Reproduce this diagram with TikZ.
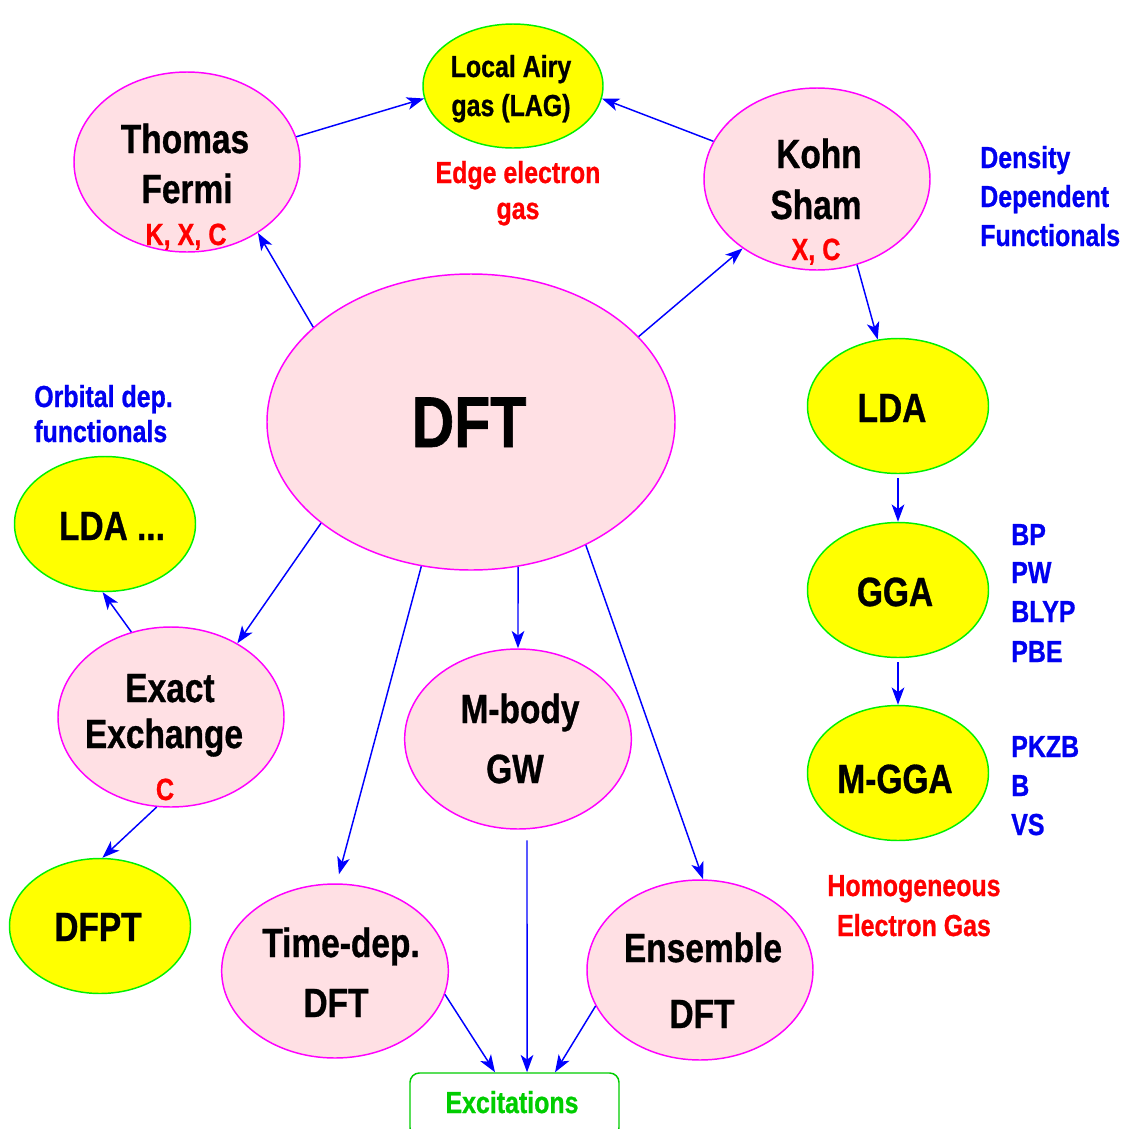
\documentclass[tikz,border=0pt]{standalone}
\usepackage{fontspec}
\setmainfont{Liberation Sans}[FakeStretch=0.82, BoldFeatures={FakeBold=0.8}]
\usetikzlibrary{shapes.geometric,arrows.meta}
\definecolor{pinkfill}{RGB}{255,224,228}
\definecolor{pinkline}{RGB}{255,0,255}
\definecolor{yelfill}{RGB}{255,255,0}
\definecolor{yelline}{RGB}{0,240,0}
\definecolor{arrblue}{RGB}{0,0,255}
\definecolor{txtblue}{RGB}{0,0,240}
\definecolor{txtred}{RGB}{255,0,0}
\definecolor{excgreen}{RGB}{0,205,0}
\begin{document}
\begin{tikzpicture}[x=0.75pt,y=-0.75pt,
  pinkell/.style={ellipse, draw=pinkline, fill=pinkfill, line width=1.1pt, inner sep=0pt},
  yelell/.style={ellipse, draw=yelline, fill=yelfill, line width=1.1pt, inner sep=0pt,
    minimum width=135.75pt, minimum height=101.25pt},
  arr/.style={draw=arrblue, line width=1.1pt, -{Stealth[length=13pt,width=9.5pt,inset=3.5pt]}},
  big/.style={anchor=base, inner sep=0pt, font=\bfseries\fontsize{30.6}{36}\selectfont},
  huge/.style={anchor=base, inner sep=0pt, font=\bfseries\fontsize{54}{60}\selectfont},
  mid/.style={anchor=base, inner sep=0pt, font=\bfseries\fontsize{22.8}{27}\selectfont},
  redsm/.style={anchor=base, inner sep=0pt, text=txtred, font=\bfseries\fontsize{23}{27}\selectfont},
  bluel/.style={mid, anchor=base west, text=txtblue},
  redl/.style={mid, text=txtred}
]
\useasboundingbox (0,0) rectangle (1122,1129);

% ellipses
\node[pinkell, minimum width=306pt, minimum height=222pt] (dft) at (471,422) {};
\node[pinkell, minimum width=169.5pt, minimum height=135pt] (tf) at (187,162) {};
\node[yelell, minimum width=135pt, minimum height=93pt] (lag) at (513,86) {};
\node[pinkell, minimum width=169.5pt, minimum height=136.5pt] (ks) at (817,179) {};
\node[yelell] (lda) at (898,406) {};
\node[yelell] (gga) at (898,590) {};
\node[yelell] (mgga) at (898,773) {};
\node[yelell] (ldal) at (105,524) {};
\node[pinkell, minimum width=169.5pt, minimum height=135pt] (ee) at (171,717) {};
\node[yelell] (dfpt) at (100,926) {};
\node[pinkell, minimum width=170pt, minimum height=135pt] (mb) at (518,739) {};
\node[pinkell, minimum width=170pt, minimum height=130.5pt] (td) at (335,971) {};
\node[pinkell, minimum width=169.5pt, minimum height=135pt] (ens) at (700,970) {};
\node[draw=excgreen, line width=1.1pt, rounded corners=7pt, minimum width=156.75pt,
  minimum height=48pt, inner sep=0pt] (exc) at (514.5,1105) {};

% texts inside nodes
\node[huge] (tdft) at (469,447) {DFT};
\node[big] (ttf1) at (185,153) {Thomas};
\node[big] (ttf2) at (187,203) {Fermi};
\node[redsm] (ttf3) at (186,245) {K, X, C};
\node[mid] (tlag1) at (511,77) {Local Airy};
\node[mid] (tlag2) at (511,116) {gas (LAG)};
\node[big] (tks1) at (819,168) {Kohn};
\node[big] (tks2) at (816,219) {Sham};
\node[redsm] (tks3) at (816,260) {X, C};
\node[big] (tlda) at (892,422) {LDA};
\node[big] (tgga) at (895,606) {GGA};
\node[big] (tmgga) at (895,793) {M-GGA};
\node[big] (tldal) at (112,540) {LDA ...};
\node[big] (tee1) at (170,702) {Exact};
\node[big] (tee2) at (164,748) {Exchange};
\node[redsm] (tee3) at (165,800) {C};
\node[big] (tdfpt) at (98,941) {DFPT};
\node[big] (tmb1) at (520,723) {M-body};
\node[big] (tmb2) at (515,783) {GW};
\node[big] (ttd1) at (341,957) {Time-dep.};
\node[big] (ttd2) at (336,1017) {DFT};
\node[big] (tens1) at (703,962) {Ensemble};
\node[big] (tens2) at (702,1028) {DFT};
\node[mid, text=excgreen] (texc) at (512,1113) {Excitations};

% free labels
\node[redl] (edge1) at (518,183) {Edge electron};
\node[redl] (edge2) at (518,219) {gas};
\node[bluel] (dd1) at (980,168) {Density};
\node[bluel] (dd2) at (980,207) {Dependent};
\node[bluel] (dd3) at (980,246) {Functionals};
\node[bluel] (g1) at (1011,545) {BP};
\node[bluel] (g2) at (1011,583) {PW};
\node[bluel] (g3) at (1011,622) {BLYP};
\node[bluel] (g4) at (1011,662) {PBE};
\node[bluel] (m1) at (1011,757) {PKZB};
\node[bluel] (m2) at (1011,796) {B};
\node[bluel] (m3) at (1011,835) {VS};
\node[redl] (heg1) at (914,896) {Homogeneous};
\node[redl] (heg2) at (914,936) {Electron Gas};
\node[bluel] (od1) at (34,407) {Orbital dep.};
\node[bluel] (od2) at (34,442) {functionals};

% connectors
\draw[arr] (tf.13.5) -- (lag.188);
\draw[arr] (ks.160) -- (lag.-8);
\draw[arr] (dft.149) -- (tf.-45);
\draw[arr] (dft.27) -- (ks.223);
\draw[arr] (ks.-65) -- (lda.107);
\draw[arr, shorten <=3pt] (lda.south) -- (gga.north);
\draw[arr, shorten <=3pt] (gga.south) -- (mgga.north);
\draw[arr] (dft.214.6) -- (ee.48);
\draw[arr] (ee.115) -- (ldal.268);
\draw[arr] (ee.261) -- (dfpt.88);
\draw[arr, shorten >=7pt] (dft.251) -- (td.89);
\draw[arr] (dft.-72.7) -- (mb.north);
\draw[arr] (dft.-47) -- (ens.88);
\draw[arr] (td.-12.5) -- ([xshift=-14.6pt]exc.north);
\draw[arr] ([xshift=6.75pt,yshift=-8pt]mb.south) -- ([xshift=9.4pt]exc.north);
\draw[arr] (ens.199.6) -- ([xshift=30.4pt]exc.north);
\end{tikzpicture}
\end{document}
